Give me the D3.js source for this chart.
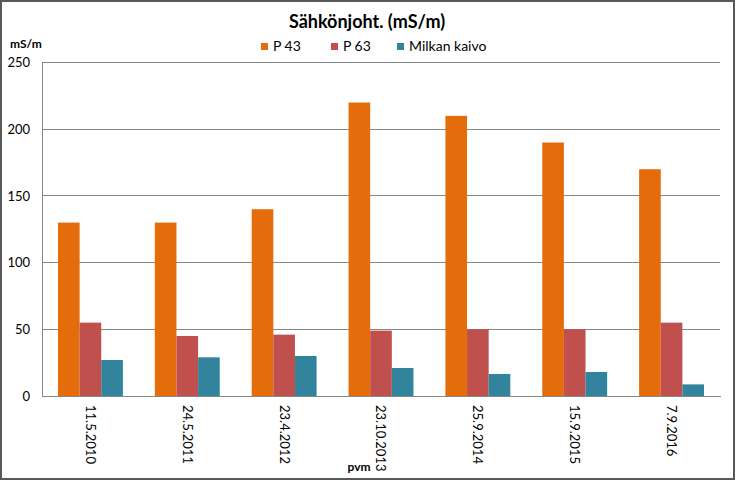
<!DOCTYPE html>
<html>
<head>
<meta charset="utf-8">
<script src="https://cdn.jsdelivr.net/npm/d3@7"></script>
<style>
  html, body { margin: 0; padding: 0; background: #fff; }
  svg { display: block; font-family: Lato, "Open Sans", sans-serif; }
</style>
</head>
<body>
<svg id="chart" width="735" height="480"></svg>
<script>
const categories = ["11.5.2010", "24.5.2011", "23.4.2012", "23.10.2013", "25.9.2014", "15.9.2015", "7.9.2016"];
const seriesNames = ["P 43", "P 63", "Milkan kaivo"];
const p43 = [130, 130, 140, 220, 210, 190, 170];
const p63 = [55, 45, 46, 49, 50, 50, 55];
const milkan = [27, 29, 30, 21, 16.5, 18, 8.7];
const yTicks = [0, 50, 100, 150, 200, 250];
const colors = ["#E46C0A", "#C0504D", "#31849B"];

const seriesValues = [p43, p63, milkan];
const data = categories.map((c, i) => ({ cat: c, vals: seriesValues.map(s => s[i]) }));

const svg = d3.select("#chart");
const W = 735, H = 480;
const m = { left: 42, right: 15, top: 62.5, bottom: 84 };

svg.append("rect").attr("x", 1).attr("y", 1).attr("width", W - 2).attr("height", H - 2)
  .attr("fill", "#fff").attr("stroke", "#595959").attr("stroke-width", 2);

const x0 = d3.scaleBand().domain(categories).range([m.left, W - m.right]).paddingInner(0.33).paddingOuter(0.165);
const x1 = d3.scaleBand().domain(seriesNames).range([0, x0.bandwidth()]);
const y = d3.scaleLinear().domain([0, 250]).range([H - m.bottom, m.top]);

// gridlines
svg.append("g").selectAll("line").data(yTicks.filter(t => t > 0)).join("line")
  .attr("x1", m.left).attr("x2", W - m.right)
  .attr("y1", d => y(d)).attr("y2", d => y(d))
  .attr("stroke", "#878787").attr("stroke-width", 1).attr("shape-rendering", "crispEdges");

// bars
const g = svg.append("g").selectAll("g").data(data).join("g")
  .attr("transform", d => `translate(${x0(d.cat)},0)`);
g.selectAll("rect").data(d => d.vals.map((v, k) => ({ k, v }))).join("rect")
  .attr("x", d => x1(seriesNames[d.k]))
  .attr("width", x1.bandwidth())
  .attr("y", d => y(d.v))
  .attr("height", d => y(0) - y(d.v))
  .attr("fill", d => colors[d.k]);

// y axis
const yAxis = d3.axisLeft(y).tickValues(yTicks).tickSize(0).tickPadding(12);
const ya = svg.append("g").attr("transform", `translate(${m.left},0)`).call(yAxis);
ya.select(".domain").attr("stroke", "#878787").attr("shape-rendering", "crispEdges");
ya.selectAll("text").attr("font-size", 13).attr("fill", "#000").attr("font-family", "Lato, 'Open Sans', sans-serif");

// x axis
const xAxis = d3.axisBottom(x0).tickSize(0).tickPadding(0);
const xa = svg.append("g").attr("transform", `translate(0,${y(0)})`).call(xAxis);
xa.select(".domain").attr("stroke", "#878787").attr("shape-rendering", "crispEdges");
xa.selectAll("text")
  .attr("font-size", 13).attr("fill", "#000").attr("font-family", "Lato, 'Open Sans', sans-serif")
  .attr("text-anchor", "start")
  .attr("dy", "0.35em")
  .attr("transform", "translate(0,9) rotate(90)")
  .attr("y", 0).attr("x", 0);

// title
svg.append("text").attr("x", 367).attr("y", 28).attr("text-anchor", "middle")
  .attr("font-size", 18).attr("font-weight", "bold").text("Sähkönjoht. (mS/m)");

// y unit
svg.append("text").attr("x", 10).attr("y", 48).attr("font-size", 12).attr("font-weight", "bold").text("mS/m");

// x label
svg.append("text").attr("x", 359).attr("y", 471).attr("text-anchor", "middle")
  .attr("font-size", 12).attr("font-weight", "bold").text("pvm");

// legend
const legendX = [261, 331, 397];
const lg = svg.append("g").selectAll("g").data(seriesNames).join("g")
  .attr("transform", (d, i) => `translate(${legendX[i]},43)`);
lg.append("rect").attr("width", 7).attr("height", 7).attr("fill", (d, i) => colors[i]);
lg.append("text").attr("x", 12).attr("y", 7.5).attr("font-size", 14).text(d => d);
</script>
</body>
</html>
